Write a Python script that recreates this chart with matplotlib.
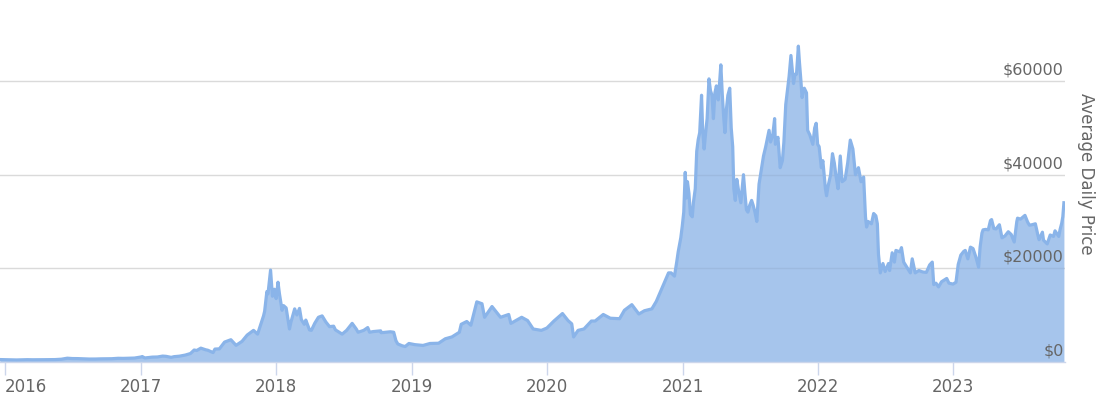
import matplotlib
matplotlib.use("Agg")
import matplotlib.pyplot as plt
import numpy as np
import pandas as pd

dates = [
    "2015-12-18", "2016-01-01", "2016-01-15", "2016-02-01", "2016-02-15", "2016-03-01", "2016-03-15",
    "2016-04-01", "2016-04-15", "2016-05-01", "2016-05-15", "2016-06-01", "2016-06-17", "2016-07-01",
    "2016-07-15", "2016-08-01", "2016-08-15", "2016-09-01", "2016-09-15", "2016-10-01", "2016-10-15",
    "2016-11-01", "2016-11-15", "2016-12-01", "2016-12-15", "2017-01-01", "2017-01-05", "2017-01-12",
    "2017-02-01", "2017-02-15", "2017-03-01", "2017-03-10", "2017-03-24", "2017-04-01", "2017-04-15",
    "2017-05-01", "2017-05-15", "2017-05-25", "2017-06-01", "2017-06-12", "2017-06-25", "2017-07-01",
    "2017-07-15", "2017-07-20", "2017-08-01", "2017-08-15", "2017-09-01", "2017-09-15", "2017-10-01",
    "2017-10-15", "2017-11-01", "2017-11-12", "2017-11-28", "2017-12-01", "2017-12-07", "2017-12-10",
    "2017-12-17", "2017-12-22", "2017-12-27",
    "2018-01-01", "2018-01-06", "2018-01-10", "2018-01-17", "2018-01-21", "2018-01-28", "2018-02-02",
    "2018-02-06", "2018-02-10", "2018-02-20", "2018-02-26", "2018-03-05", "2018-03-10", "2018-03-18",
    "2018-03-22", "2018-04-01", "2018-04-06", "2018-04-15", "2018-04-25", "2018-05-05", "2018-05-15",
    "2018-05-25", "2018-06-05", "2018-06-10", "2018-06-24", "2018-06-28", "2018-07-10", "2018-07-25",
    "2018-08-05", "2018-08-10", "2018-08-25", "2018-09-05", "2018-09-10", "2018-09-20", "2018-10-10",
    "2018-10-11", "2018-11-05", "2018-11-14", "2018-11-20", "2018-11-25", "2018-12-07", "2018-12-15",
    "2018-12-25",
    "2019-01-10", "2019-02-01", "2019-02-20",
    "2019-03-15", "2019-04-02", "2019-04-20", "2019-05-10", "2019-05-15", "2019-05-30", "2019-06-10",
    "2019-06-26", "2019-07-10", "2019-07-17", "2019-08-06", "2019-08-29", "2019-09-20", "2019-09-26",
    "2019-10-25", "2019-11-10", "2019-11-25", "2019-12-17", "2020-01-01", "2020-01-20", "2020-02-12",
    "2020-02-27", "2020-03-08", "2020-03-13", "2020-03-25", "2020-04-10", "2020-04-30", "2020-05-10",
    "2020-06-01", "2020-06-20", "2020-07-15", "2020-07-28", "2020-08-17", "2020-09-05", "2020-09-20",
    "2020-10-10", "2020-10-22", "2020-11-05", "2020-11-24", "2020-12-01", "2020-12-10", "2020-12-16",
    "2020-12-20", "2020-12-27", "2020-12-31",
    "2021-01-04", "2021-01-08", "2021-01-11", "2021-01-14", "2021-01-18", "2021-01-22", "2021-01-27",
    "2021-01-30", "2021-02-04", "2021-02-08", "2021-02-12", "2021-02-16", "2021-02-21", "2021-02-24",
    "2021-02-28", "2021-03-04", "2021-03-08", "2021-03-13", "2021-03-17", "2021-03-21", "2021-03-25",
    "2021-03-29", "2021-04-02", "2021-04-07", "2021-04-10", "2021-04-14", "2021-04-18", "2021-04-22",
    "2021-04-25", "2021-04-29", "2021-05-03", "2021-05-08", "2021-05-12", "2021-05-16", "2021-05-19",
    "2021-05-23", "2021-05-27", "2021-06-01", "2021-06-07", "2021-06-14", "2021-06-18", "2021-06-22",
    "2021-06-26", "2021-07-01", "2021-07-06", "2021-07-10", "2021-07-15", "2021-07-20", "2021-07-26",
    "2021-07-30", "2021-08-07", "2021-08-13", "2021-08-22", "2021-08-26", "2021-09-01", "2021-09-06",
    "2021-09-08", "2021-09-15", "2021-09-21", "2021-09-27", "2021-10-01", "2021-10-06", "2021-10-15",
    "2021-10-20", "2021-10-27", "2021-10-31", "2021-11-04", "2021-11-09", "2021-11-12", "2021-11-16",
    "2021-11-19", "2021-11-25", "2021-12-01", "2021-12-04", "2021-12-10", "2021-12-14", "2021-12-18",
    "2021-12-23", "2021-12-27", "2021-12-31",
    "2022-01-04", "2022-01-10", "2022-01-14", "2022-01-21", "2022-01-24", "2022-01-28", "2022-02-04",
    "2022-02-09", "2022-02-14", "2022-02-18", "2022-02-24", "2022-03-02", "2022-03-07", "2022-03-15",
    "2022-03-22", "2022-03-29", "2022-04-05", "2022-04-12", "2022-04-20", "2022-04-27", "2022-05-04",
    "2022-05-09", "2022-05-12", "2022-05-16", "2022-05-25", "2022-05-31", "2022-06-06", "2022-06-10",
    "2022-06-13", "2022-06-18", "2022-06-25", "2022-07-01", "2022-07-10", "2022-07-13", "2022-07-20",
    "2022-07-26", "2022-07-30", "2022-08-10", "2022-08-14", "2022-08-20", "2022-08-30", "2022-09-07",
    "2022-09-12", "2022-09-20", "2022-09-30", "2022-10-10", "2022-10-20", "2022-10-29", "2022-11-05",
    "2022-11-09", "2022-11-15", "2022-11-22", "2022-11-30", "2022-12-14", "2022-12-20", "2022-12-31",
    "2023-01-08", "2023-01-14", "2023-01-21", "2023-01-29", "2023-02-02", "2023-02-09", "2023-02-16",
    "2023-02-23", "2023-03-03", "2023-03-10", "2023-03-14", "2023-03-19", "2023-03-22", "2023-03-29",
    "2023-04-05", "2023-04-11", "2023-04-14", "2023-04-20", "2023-04-26", "2023-05-05", "2023-05-12",
    "2023-05-20", "2023-05-29", "2023-06-06", "2023-06-14", "2023-06-21", "2023-06-23", "2023-07-01",
    "2023-07-13", "2023-07-20", "2023-07-25", "2023-08-01", "2023-08-10", "2023-08-17", "2023-08-20",
    "2023-08-29", "2023-09-01", "2023-09-11", "2023-09-19", "2023-09-28", "2023-10-02", "2023-10-12",
    "2023-10-16", "2023-10-20", "2023-10-23", "2023-10-26",
]

prices = [
    460, 430, 390, 375, 405, 435, 415,
    417, 430, 450, 455, 535, 750, 675,
    665, 620, 570, 575, 610, 615, 640,
    730, 710, 750, 780, 1000, 1100, 800,
    980, 1010, 1200, 1150, 930, 1080, 1180,
    1420, 1750, 2500, 2400, 2900, 2550, 2450,
    1950, 2700, 2750, 4200, 4700, 3500, 4350,
    5700, 6700, 5900, 9800, 10800, 15000, 14500,
    19600, 14000, 15500,
    13500, 17000, 14500, 11000, 12000, 11500, 9000,
    7000, 8500, 11300, 10000, 11400, 9000, 8000,
    8900, 6800, 6700, 8200, 9500, 9800, 8500,
    7500, 7600, 6800, 6100, 5900, 6700, 8200,
    7000, 6300, 6700, 7300, 6300, 6450, 6600,
    6200, 6400, 6300, 4500, 3800, 3400, 3250,
    3900,
    3650, 3480, 3900,
    3950, 4900, 5300, 6300, 8000, 8600, 7800,
    12800, 12400, 9500, 11800, 9500, 10100, 8200,
    9500, 8800, 7000, 6700, 7200, 8700, 10300,
    8800, 8100, 5300, 6700, 7000, 8700, 8700,
    10100, 9300, 9200, 11000, 12200, 10200, 10900,
    11300, 12900, 15500, 19000, 19000, 18300, 21300,
    23500, 26500, 29000,
    32000, 40500, 35000, 38500, 36000, 31500, 31000,
    34000, 37000, 45000, 47500, 49000, 57000, 49500,
    45500, 49000, 52000, 60500, 58000, 57000, 52000,
    57500, 59000, 56000, 59000, 63500, 57000, 52000,
    49000, 54000, 57000, 58500, 50000, 46000, 37000,
    34500, 39000, 36500, 34000, 40000, 36000, 32500,
    32000, 33500, 34500, 33500, 32000, 30000, 38000,
    40000, 44000, 46000, 49500, 47000, 48500, 52000,
    46500, 48000, 41500, 43000, 47000, 55000, 61000,
    65500, 59500, 61500, 61500, 67500, 64000, 60000,
    56500, 58500, 57500, 49500, 48500, 47500, 46500,
    50000, 51000, 46500,
    46000, 41500, 43000, 37000, 35500, 37500, 40000,
    44500, 42500, 40000, 37000, 44000, 38500, 39000,
    42500, 47400, 45500, 40000, 41500, 38500, 39500,
    31000, 28800, 30000, 29500, 31700, 31200, 29500,
    23000, 19000, 21000, 19300, 21000, 19500, 23300,
    21300, 23800, 23500, 24400, 21300, 20000, 19000,
    22000, 19000, 19500, 19200, 19100, 20700, 21300,
    16500, 16800, 16000, 17100, 17800, 16800, 16600,
    17000, 20800, 22800, 23600, 23800, 22000, 24500,
    24200, 22300, 20200, 24500, 27500, 28200, 28300,
    28200, 30200, 30400, 28500, 28400, 29300, 26500,
    26900, 27800, 27200, 25600, 30000, 30700, 30500,
    31300, 29900, 29200, 29300, 29500, 27000, 26100,
    27700, 26000, 25200, 27100, 26800, 28000, 26800,
    28400, 29600, 31000, 34000,
]

ytick_values = [0, 20000, 40000, 60000]
ytick_labels = ["$0", "$20000", "$40000", "$60000"]
year_ticks = ["2016", "2017", "2018", "2019", "2020", "2021", "2022", "2023"]
y_title = "Average Daily Price"

x = pd.to_datetime(dates)
y = np.array(prices, dtype=float)

W, H = 1106, 400
fig = plt.figure(figsize=(W / 100, H / 100), dpi=100)

# plot area: x 0..1065 px, baseline at 361.7 px, 70000 at 34.45 px
ax = fig.add_axes([0.0, (H - 361.7) / H, 1065 / W, (361.7 - 34.45) / H])

fill_color = "#a6c5ec"
line_color = "#8ab4e9"
grid_color = "#e6e6e6"
axis_color = "#ccd6eb"
text_color = "#666666"

for v in ytick_values[1:]:
    ax.axhline(v, color=grid_color, lw=1.0, zorder=1)
    ax.axhline(v, color="#000000", alpha=0.05, lw=1.0, zorder=2.5)

ax.fill_between(x, y, 0, color=fill_color, lw=0, zorder=2)
ax.plot(x, y, color=line_color, lw=2.3, zorder=3, solid_joinstyle="round")

xmin = pd.Timestamp("2016-01-01") - pd.Timedelta(days=13.5)
xmax = pd.Timestamp("2016-01-01") + pd.Timedelta(days=(1065 - 5) / 0.3709)
ax.set_xlim(xmin, xmax)
ax.set_ylim(0, 70000)

for s in ["top", "left", "right"]:
    ax.spines[s].set_visible(False)
ax.spines["bottom"].set_color(axis_color)
ax.spines["bottom"].set_linewidth(1.0)
ax.spines["bottom"].set_zorder(4)

ax.set_yticks([])
tick_pos = [pd.Timestamp(f"{t}-01-01") for t in year_ticks]
ax.set_xticks(tick_pos)
ax.set_xticklabels(year_ticks)
ax.tick_params(axis="x", length=9, width=1, color=axis_color, pad=3,
               labelsize=12, labelcolor=text_color)
lbls = ax.get_xticklabels()
lbls[0].set_horizontalalignment("left")

for v, lab in zip(ytick_values, ytick_labels):
    ax.annotate(lab, xy=(1.0, v), xycoords=("axes fraction", "data"),
                xytext=(-1, 2.5), textcoords="offset points",
                ha="right", va="bottom", fontsize=11.5, color=text_color,
                annotation_clip=False, zorder=5)

fig.text(1086 / W, 1 - 174 / H, y_title, rotation=270, ha="center", va="center",
         fontsize=12, color=text_color)

fig.savefig("out.png", dpi=100)
